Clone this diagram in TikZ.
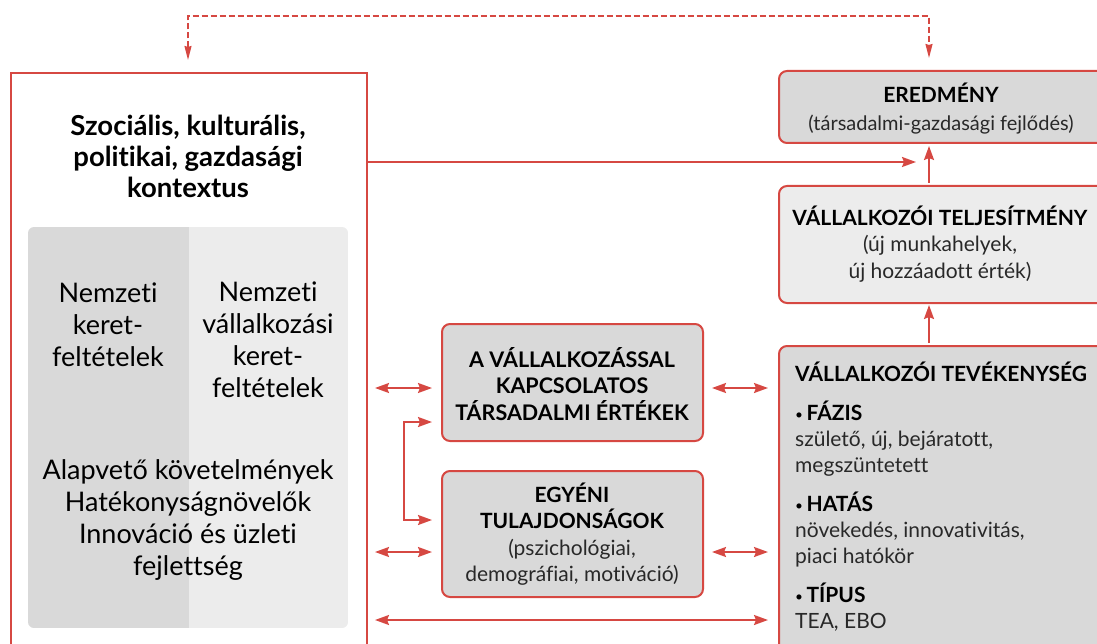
\documentclass[tikz,border=0pt]{standalone}
\usepackage{fontspec}
\setmainfont{Lato}[Ligatures=NoCommon]
\usetikzlibrary{arrows.meta}
\definecolor{cred}{RGB}{214,72,66}
\definecolor{gdark}{RGB}{217,217,217}
\definecolor{glight}{RGB}{236,236,236}
\definecolor{txt}{RGB}{40,40,40}
\newcommand{\smbul}{\raisebox{1.5pt}{\scalebox{0.65}{•}}}
\begin{document}
\begin{tikzpicture}[x=1pt,y=-1pt,
  box/.style={draw=cred,line width=2pt,rounded corners=8pt,inner sep=0pt,anchor=north west},
  tip/.tip={Stealth[length=14pt,width=10pt,inset=2pt]},
  arr/.style={draw=cred,line width=2pt,-tip},
  darr/.style={draw=cred,line width=2pt,tip-tip},
  dasharr/.style={draw=cred,line width=1.6pt,dash pattern=on 6pt off 3pt,{Stealth[length=14pt,width=7pt,inset=1pt]}-{Stealth[length=14pt,width=7pt,inset=1pt]}},
  bigtxt/.style={font=\fontsize{27}{32}\selectfont,text=black,align=center,inner sep=0pt},
  midtxt/.style={font=\fontsize{21}{26.5}\selectfont,text=black,align=center,inner sep=0pt},
]
\useasboundingbox (0,0) rectangle (1097,644);
\clip (0,0) rectangle (1097,644);

% context box
\node[box,rounded corners=0pt,minimum width=356pt,minimum height=620pt] (ctx) at (10,72) {};
\begin{scope}
  \clip[rounded corners=6pt] (28,227) rectangle (348,628);
  \fill[gdark] (28,227) rectangle (189,628);
  \fill[glight] (189,227) rectangle (348,628);
\end{scope}
\node[bigtxt,font=\fontsize{27.5}{31}\selectfont\bfseries] (title) at (188,156) {Szociális, kulturális,\\politikai, gazdasági\\kontextus};
\node[bigtxt] (nk) at (108,325) {Nemzeti\\keret-\\feltételek};
\node[bigtxt] (nvk) at (268,340) {Nemzeti\\vállalkozási\\keret-\\feltételek};
\node[bigtxt] (alap) at (188,520) {Alapvető követelmények\\Hatékonyságnövelők\\Innováció és üzleti\\fejlettség};

% right boxes
\node[box,fill=gdark,minimum width=340pt,minimum height=72pt] (ere) at (778,70) {};
\node[midtxt,font=\fontsize{21}{28}\selectfont] (eretxt) at (941,109) {\textbf{EREDMÉNY}\\\color{txt}\fontsize{20}{28}\selectfont(társadalmi-gazdasági fejlődés)};
\node[box,fill=glight,minimum width=340pt,minimum height=117pt] (telj) at (778,185) {};
\node[midtxt] (teljtxt) at (940,244) {\textbf{VÁLLALKOZÓI TELJESÍTMÉNY}\\\color{txt}(új munkahelyek,\\\color{txt}új hozzáadott érték)};
\node[box,fill=gdark,minimum width=340pt,minimum height=330pt] (tev) at (778,345) {};
\node[font=\fontsize{21}{26}\selectfont,align=left,inner sep=0pt,anchor=north west,text=txt] (tevtxt) at (795,362)
 {\textcolor{black}{\textbf{VÁLLALKOZÓI TEVÉKENYSÉG}}\\[13pt]
  \textcolor{black}{\smbul\,\textbf{FÁZIS}}\\
  születő, új, bejáratott,\\
  megszüntetett\\[13pt]
  \textcolor{black}{\smbul\,\textbf{HATÁS}}\\
  növekedés, innovativitás,\\
  piaci hatókör\\[13pt]
  \textcolor{black}{\smbul\,\textbf{TÍPUS}}\\
  TEA, EBO};

% middle boxes
\node[box,fill=gdark,minimum width=261pt,minimum height=117pt] (ert) at (441,323) {};
\node[midtxt,font=\fontsize{21.5}{26.5}\selectfont\bfseries] (erttxt) at (572,384) {A VÁLLALKOZÁSSAL\\KAPCSOLATOS\\TÁRSADALMI ÉRTÉKEK};
\node[box,fill=gdark,minimum width=261pt,minimum height=126pt] (egy) at (441,470) {};
\node[midtxt] (egytxt) at (572,534) {\textbf{EGYÉNI}\\\textbf{TULAJDONSÁGOK}\\\color{txt}(pszichológiai,\\\color{txt}demográfiai, motiváció)};

% connectors
\coordinate (ctxtop) at (188,72);
\coordinate (eretop) at (929,70);
\draw[dasharr,shorten >=12pt,shorten <=12pt] (ctxtop) -- (188,16) -- (929,16) -- (eretop);
\coordinate (ctxout) at (366,162);
\coordinate (ereend) at (916,162);
\draw[arr] (ctxout) -- (ereend);
\draw[arr] (telj.north -| eretop) ++(0,-2) -- (929,146);
\draw[arr] (tev.north -| eretop) ++(0,-2) -- (929,305);

\draw[darr] (375,388) -- (432,388);
\draw[darr] (712,388) -- (768,388);
\draw[darr] (375,552) -- (432,552);
\draw[darr] (712,552) -- (768,552);
\draw[darr] (375,620) -- (768,620);
\draw[darr] (432,422) -- (404,422) -- (404,520) -- (432,520);
\end{tikzpicture}
\end{document}
